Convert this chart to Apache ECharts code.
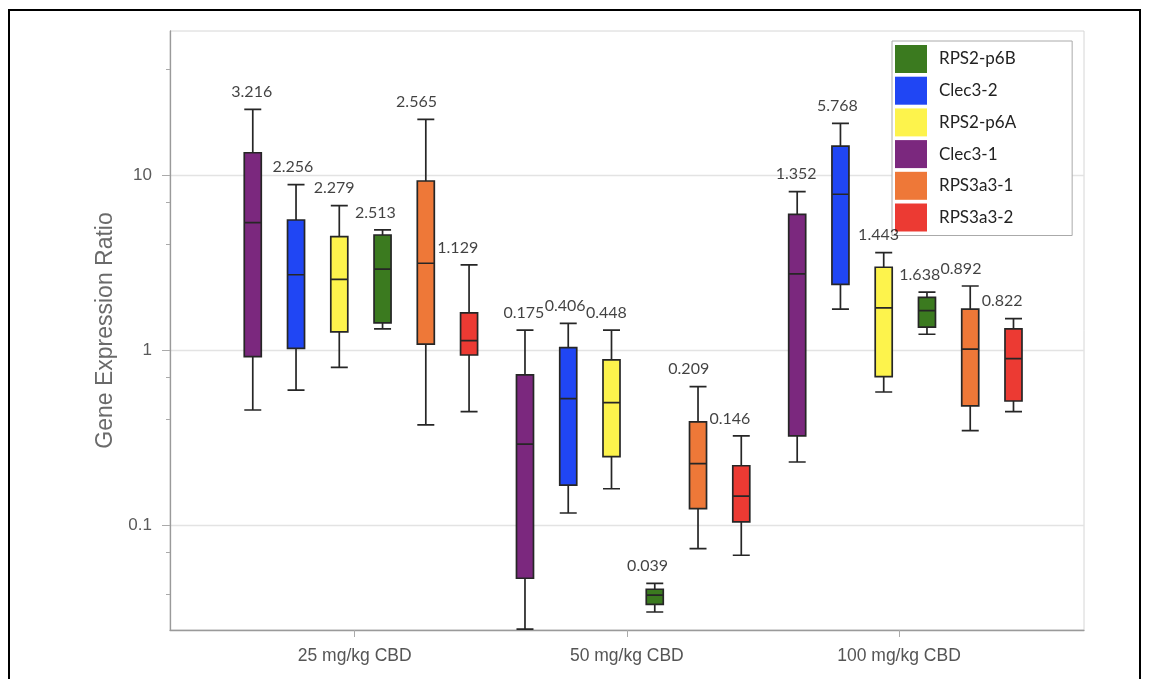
<!DOCTYPE html>
<html>
<head>
<meta charset="utf-8">
<script src="https://cdn.jsdelivr.net/npm/echarts@6/dist/echarts.min.js"></script>
<style>
html,body{margin:0;padding:0;background:#fff;}
#chart{width:1149px;height:679px;}
</style>
</head>
<body>
<div id="chart"></div>
<script>
// ---------- data ----------
const categories = ['25 mg/kg CBD', '50 mg/kg CBD', '100 mg/kg CBD'];
const seriesNames = ['Clec3-1', 'Clec3-2', 'RPS2-p6A', 'RPS2-p6B', 'RPS3a3-1', 'RPS3a3-2'];
const legendOrder = ['RPS2-p6B', 'Clec3-2', 'RPS2-p6A', 'Clec3-1', 'RPS3a3-1', 'RPS3a3-2'];
const yTickValues = [0.1, 1, 10];
const yMinorTickValues = [0.04, 0.07, 0.4, 0.7, 4, 7, 40];
const yRange = [0.0251, 66.5];

// [min, Q1, median, Q3, max] per category
const clec3_1  = [[0.454, 0.915, 5.34, 13.4, 23.7], [0.0254, 0.0496, 0.290, 0.720, 1.30], [0.229, 0.323, 2.72, 5.96, 8.03]];
const clec3_2  = [[0.590, 1.02, 2.69, 5.53, 8.80], [0.117, 0.169, 0.527, 1.03, 1.42], [1.71, 2.37, 7.76, 14.6, 19.7]];
const rps2_p6a = [[0.796, 1.27, 2.53, 4.44, 6.68], [0.161, 0.246, 0.500, 0.877, 1.30], [0.575, 0.704, 1.74, 2.97, 3.60]];
const rps2_p6b = [[1.32, 1.43, 2.90, 4.54, 4.85], [0.0318, 0.0352, 0.0397, 0.0429, 0.0464], [1.23, 1.35, 1.68, 2.00, 2.14]];
const rps3a3_1 = [[0.373, 1.08, 3.13, 9.24, 20.8], [0.0732, 0.124, 0.224, 0.388, 0.617], [0.346, 0.479, 1.01, 1.71, 2.32]];
const rps3a3_2 = [[0.444, 0.936, 1.13, 1.63, 3.06], [0.0671, 0.104, 0.146, 0.218, 0.323], [0.444, 0.511, 0.892, 1.32, 1.51]];

// numbers printed above each box
const clec3_1Labels  = [3.216, 0.175, 1.352];
const clec3_2Labels  = [2.256, 0.406, 5.768];
const rps2_p6aLabels = [2.279, 0.448, 1.443];
const rps2_p6bLabels = [2.513, 0.039, 1.638];
const rps3a3_1Labels = [2.565, 0.209, 0.892];
const rps3a3_2Labels = [1.129, 0.146, 0.822];

// ---------- build ----------
const boxes  = [clec3_1, clec3_2, rps2_p6a, rps2_p6b, rps3a3_1, rps3a3_2];
const labels = [clec3_1Labels, clec3_2Labels, rps2_p6aLabels, rps2_p6bLabels, rps3a3_1Labels, rps3a3_2Labels];
const colors = ['#7B287E', '#2046F4', '#FDF34C', '#3B7A1F', '#EE7838', '#EC3A33'];

const W = 1149, H = 679;
const boxGridLeft = 165.2, boxGridWidth = 934.5;
const xMin = -0.719, xMax = 2.714;
// same slot formula as the echarts boxplot layout
const bandW = boxGridWidth / categories.length;
const avail = bandW * 0.8 - 2;
const per = avail / seriesNames.length;
const rawBoxW = per * 0.7;
const slotOffset = s => rawBoxW / 2 - avail / 2 + s * per;

const series = [];
seriesNames.forEach((name, s) => {
  series.push({
    name: name,
    type: 'boxplot',
    xAxisIndex: 2, yAxisIndex: 3,
    layout: 'horizontal',
    boxWidth: [17, 17],
    itemStyle: { color: colors[s], borderColor: '#262626', borderWidth: 1.7 },
    emphasis: { disabled: true },
    data: boxes[s].map((b, g) => [g].concat(b))
  });
});
seriesNames.forEach((name, s) => {
  series.push({
    name: 'lbl-' + name,
    type: 'scatter',
    xAxisIndex: 2, yAxisIndex: 3,
    symbolSize: 1,
    itemStyle: { color: 'rgba(0,0,0,0)' },
    z: 5,
    silent: true,
    label: {
      show: true,
      position: 'top',
      distance: 9,
      offset: [slotOffset(s), 0],
      formatter: p => p.value[2].toFixed(3),
      fontFamily: 'Lato',
      fontSize: 16,
      color: '#111'
    },
    data: boxes[s].map((b, g) => [g, b[4], labels[s][g]])
  });
});

const option = {
  animation: false,
  backgroundColor: '#fff',
  graphic: [{
    type: 'rect',
    shape: { x: 9, y: 10, width: 1131, height: 720 },
    style: { fill: 'none', stroke: '#000', lineWidth: 2 },
    silent: true
  }],
  legend: {
    data: legendOrder.map(n => ({ name: n, itemStyle: { color: colors[seriesNames.indexOf(n)], borderWidth: 0 } })),
    orient: 'vertical',
    left: 892, top: 41,
    icon: 'rect',
    itemWidth: 32, itemHeight: 28, itemGap: 3.7,
    padding: [4, 56, 4, 3],
    borderColor: '#aaa', borderWidth: 1,
    backgroundColor: '#fff',
    textStyle: { fontFamily: 'Lato', fontSize: 17, color: '#222', padding: [0, 0, 0, 7] },
    selectedMode: false
  },
  grid: [
    { left: 170, right: W - 1084, top: 31, bottom: H - 630, show: true, borderColor: '#d6d6d6', borderWidth: 1, backgroundColor: 'transparent' },
    { left: 218.6, right: W - 1035.1, top: 31, bottom: H - 630 },
    { left: boxGridLeft, right: W - boxGridLeft - boxGridWidth, top: 31, bottom: H - 630 }
  ],
  xAxis: [
    { gridIndex: 0, type: 'value', min: 0, max: 1,
      axisLine: { show: true, lineStyle: { color: '#9a9a9a', width: 1.3 } },
      axisTick: { show: false }, axisLabel: { show: false }, splitLine: { show: false } },
    { gridIndex: 1, type: 'category', data: categories,
      axisLine: { show: false },
      axisTick: { show: true, alignWithLabel: true, length: 7, lineStyle: { color: '#aaa' } },
      axisLabel: { fontFamily: 'Liberation Sans', fontSize: 17.5, color: '#555', margin: 17 } },
    { gridIndex: 2, type: 'value', min: xMin, max: xMax, show: false }
  ],
  yAxis: [
    { gridIndex: 0, type: 'log', logBase: 10, min: yRange[0], max: yRange[1], position: 'left',
      name: 'Gene Expression Ratio', nameLocation: 'middle', nameGap: 52,
      nameTextStyle: { fontFamily: 'Liberation Sans', fontSize: 23, color: '#6a6a6a' },
      axisLine: { show: true, lineStyle: { color: '#9a9a9a', width: 1.3 } },
      axisTick: { show: true, length: 8, customValues: yTickValues, lineStyle: { color: '#aaa' } },
      axisLabel: { customValues: yTickValues, fontFamily: 'Liberation Sans', fontSize: 17, color: '#5a5a5a', margin: 18,
                   formatter: v => String(v) },
      splitLine: { show: true, lineStyle: { color: '#e3e3e3', width: 1.3 } } },
    { gridIndex: 0, type: 'log', logBase: 10, min: yRange[0], max: yRange[1], position: 'left', offset: 0,
      axisLine: { show: false },
      axisTick: { show: true, length: 4, customValues: yMinorTickValues, lineStyle: { color: '#aaa' } },
      axisLabel: { show: false }, splitLine: { show: false } },
    { gridIndex: 1, type: 'value', show: false },
    { gridIndex: 2, type: 'log', logBase: 10, min: yRange[0], max: yRange[1], show: false }
  ],
  series: series
};

const chart = echarts.init(document.getElementById('chart'), null, { renderer: 'canvas' });
chart.setOption(option);
</script>
</body>
</html>
